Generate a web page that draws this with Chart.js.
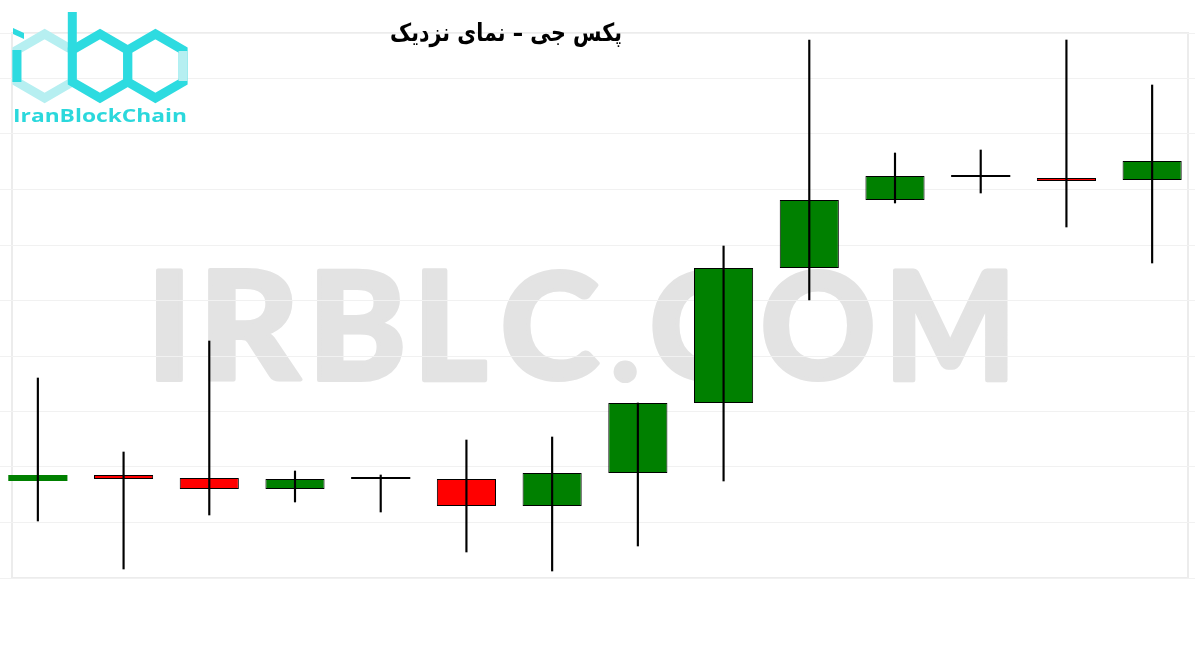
<!DOCTYPE html>
<html>
<head>
<meta charset="utf-8">
<script src="https://cdn.jsdelivr.net/npm/chart.js@4.4.0/dist/chart.umd.min.js"></script>
<style>
  html, body { margin: 0; padding: 0; background: #fff; overflow: hidden; }
  #wrap { position: absolute; left: -5px; top: 0; width: 1200px; height: 650px; }
</style>
</head>
<body>
<div id="wrap"><canvas id="candles" width="1200" height="650"></canvas></div>
<script>
// candle data (price units)
var labels = ['1', '2', '3', '4', '5', '6', '7', '8', '9', '10', '11', '12', '13', '14'];
var opens  = [97, 103, 100, 89, 99, 99, 72, 105, 175, 310, 378, 401, 400, 398];
var closes = [103, 99, 89, 99, 99, 72, 105, 175, 310, 378, 402, 401, 397, 417];
var highs  = [200, 126, 237, 107, 103, 138, 141, 175, 332, 538, 425, 428, 538, 493];
var lows   = [57, 9, 63, 76, 66, 26, 7, 32, 97, 278, 375, 385, 351, 315];

var titleText = 'پکس جی – نمای نزدیک';
var watermark = 'IRBLC.COM';
var logoText = 'IranBlockChain';

var bodies = [];
var wicks = [];
var bodyColors = [];
var bodyBorders = [];
for (var i = 0; i < labels.length; i++) {
    bodies.push([opens[i], closes[i]]);
    wicks.push([lows[i], highs[i]]);
    if (opens[i] === closes[i]) {
        bodyColors.push('#000000');   // doji drawn as a line
        bodyBorders.push(0);
    } else {
        bodyColors.push(closes[i] > opens[i] ? '#008000' : '#ff0000');
        bodyBorders.push(i === 0 ? 0 : 1);
    }
}

var OFFSET = 5; // canvas is shifted 5px left
// where each watermark letter sits (left edge, width)
var wmLeft  = [158, 210, 319, 424, 505, 615, 654, 765, 895];
var wmWidth = [23, 91, 82, 62, 93, 20, 93, 106, 111];

function hexPath(ctx, cx, cy, r) {
    ctx.beginPath();
    for (var k = 0; k < 6; k++) {
        var a = (-90 + 60 * k) * Math.PI / 180;
        var x = cx + r * Math.cos(a), y = cy + r * Math.sin(a);
        if (k === 0) ctx.moveTo(x, y); else ctx.lineTo(x, y);
    }
    ctx.closePath();
}

var decorations = {
    id: 'decorations',
    beforeDraw: function (chart) {
        var ctx = chart.ctx;
        ctx.save();
        ctx.translate(OFFSET, 0);
        ctx.fillStyle = '#fff';
        ctx.fillRect(-OFFSET, 0, 1200, 650);
        // frame
        ctx.strokeStyle = '#ececec';
        ctx.lineWidth = 2;
        ctx.strokeRect(12, 33, 1176, 545);
        // watermark, letter by letter
        ctx.font = '900 158px Lato, "DejaVu Sans", sans-serif';
        ctx.textBaseline = 'alphabetic';
        ctx.textAlign = 'left';
        ctx.fillStyle = '#e3e3e3';
        ctx.strokeStyle = '#e3e3e3';
        ctx.lineJoin = 'round';
        for (var j = 0; j < watermark.length; j++) {
            var ch = watermark[j];
            var m = ctx.measureText(ch);
            var gl = m.actualBoundingBoxLeft, gw = m.actualBoundingBoxLeft + m.actualBoundingBoxRight;
            var round = (ch === 'C' || ch === 'O');
            var sx = wmWidth[j] / gw;
            var sy = ch === '.' ? sx : 110 / (m.actualBoundingBoxAscent + m.actualBoundingBoxDescent);
            ctx.save();
            ctx.translate(wmLeft[j], 380);
            ctx.scale(sx, sy);
            ctx.lineWidth = 4 / sx;
            var yy = round ? -m.actualBoundingBoxDescent : 0;
            ctx.fillText(ch, gl, yy);
            ctx.strokeText(ch, gl, yy);
            ctx.restore();
        }
        ctx.restore();
    },
    afterDraw: function (chart) {
        var ctx = chart.ctx;
        ctx.save();
        ctx.translate(OFFSET, 0);
        var dark = '#2ddbe0', light = '#b6eff1';
        var r = 32, cy = 66;
        ctx.lineWidth = 9;
        ctx.lineJoin = 'miter';
        // i
        ctx.strokeStyle = light;
        hexPath(ctx, 44.6, cy, r); ctx.stroke();
        // b
        ctx.strokeStyle = dark;
        hexPath(ctx, 100, cy, r); ctx.stroke();
        ctx.fillStyle = dark;
        ctx.fillRect(67.8, 12, 9, 40);
        // c
        hexPath(ctx, 155.4, cy, r); ctx.stroke();
        ctx.strokeStyle = light;
        ctx.lineCap = 'butt';
        ctx.beginPath();
        ctx.moveTo(155.4 + 27.7, cy - 15); ctx.lineTo(155.4 + 27.7, cy + 15);
        ctx.stroke();
        // i stem and dot
        ctx.strokeStyle = dark;
        ctx.beginPath();
        ctx.moveTo(44.6 - 27.7, cy - 16); ctx.lineTo(44.6 - 27.7, cy + 16);
        ctx.stroke();
        ctx.beginPath();
        ctx.moveTo(13, 28); ctx.lineTo(24, 33); ctx.lineTo(24, 39); ctx.lineTo(13, 34);
        ctx.closePath(); ctx.fill();
        // logo text
        ctx.font = 'bold 17px "Open Sans", sans-serif';
        ctx.textBaseline = 'alphabetic';
        var lw = ctx.measureText(logoText).width;
        ctx.save();
        ctx.translate(13, 122);
        ctx.scale(174 / lw, 1);
        ctx.fillStyle = '#2bd8dc';
        ctx.fillText(logoText, 0, 0);
        ctx.restore();
        // title
        ctx.font = 'bold 25px "DejaVu Sans", sans-serif';
        ctx.direction = 'rtl';
        ctx.textAlign = 'center';
        ctx.textBaseline = 'middle';
        var tw = ctx.measureText(titleText).width;
        ctx.translate(506, 34);
        ctx.scale(232 / tw, 1);
        ctx.fillStyle = '#000';
        ctx.fillText(titleText, 0, 0);
        ctx.restore();
    }
};

var ctx = document.getElementById('candles').getContext('2d');
var candleChart = new Chart(ctx, {
    type: 'bar',
    data: {
        labels: labels,
        datasets: [{
            label: 'wick',
            data: wicks,
            backgroundColor: '#000000',
            barThickness: 1.5,
            grouped: false,
            borderWidth: 0
        }, {
            label: 'body',
            data: bodies,
            backgroundColor: bodyColors,
            borderColor: '#000000',
            borderWidth: bodyBorders,
            borderSkipped: false,
            minBarLength: 2,
            barPercentage: 0.69,
            categoryPercentage: 1,
            grouped: false
        }]
    },
    options: {
        responsive: false,
        animation: false,
        layout: { padding: { top: 33, bottom: 72, left: 0, right: 0 } },
        plugins: {
            legend: { display: false },
            tooltip: { enabled: false },
            title: { display: false }
        },
        scales: {
            x: {
                display: false,
                offset: true
            },
            y: {
                min: 0,
                max: 545,
                ticks: { display: false, stepSize: 55.5 },
                grid: { color: '#f1f1f1', drawTicks: false },
                border: { display: false }
            }
        }
    },
    plugins: [decorations]
});
</script>
</body>
</html>
